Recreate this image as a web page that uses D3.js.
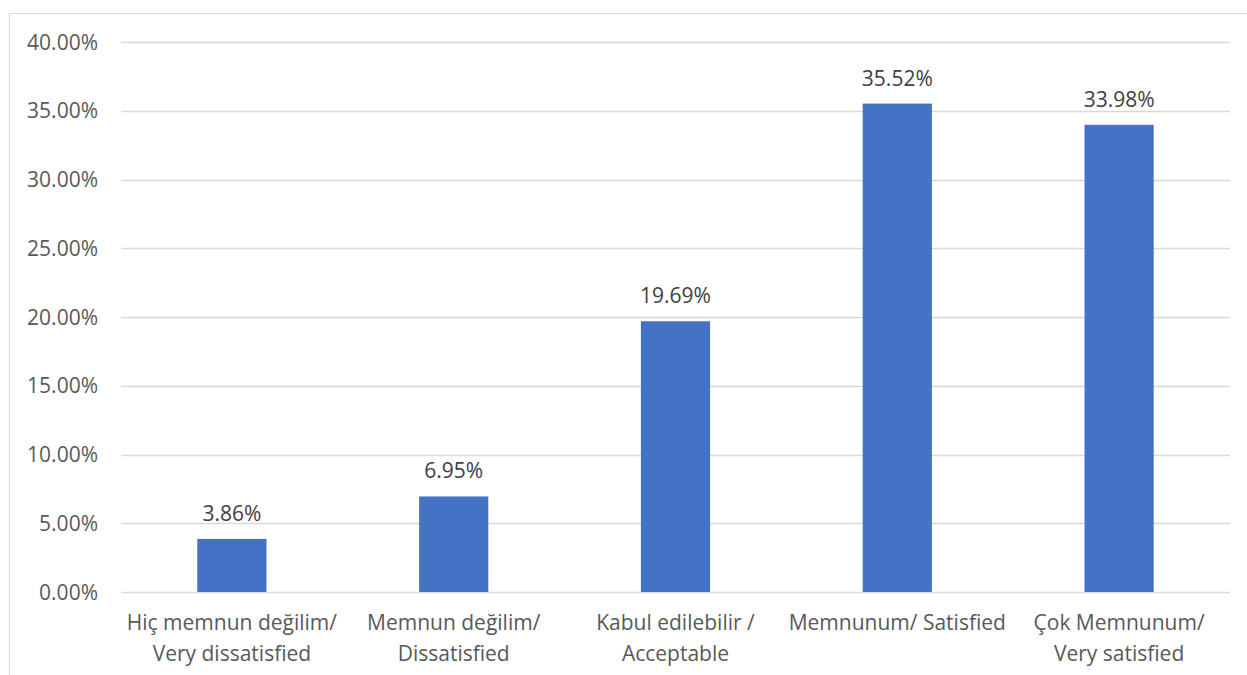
<!DOCTYPE html>
<html><head><meta charset="utf-8">
<script src="https://cdn.jsdelivr.net/npm/d3@7"></script>
<style>body{margin:0;background:#fff}svg{display:block}</style>
</head><body>
<svg id="c" width="1247" height="675"></svg>
<script>
const categories = [
  ["Hiç memnun değilim/", "Very dissatisfied"],
  ["Memnun değilim/", "Dissatisfied"],
  ["Kabul edilebilir /", "Acceptable"],
  ["Memnunum/ Satisfied"],
  ["Çok Memnunum/", "Very satisfied"]
];
const values = [3.86, 6.95, 19.69, 35.52, 33.98];
const yTicks = [0, 5, 10, 15, 20, 25, 30, 35, 40];

const svg = d3.select("#c");
const font = "'Open Sans', sans-serif";
const textColor = "#595959";
const fs = 21;

svg.append("rect").attr("x", 9.5).attr("y", 13.5).attr("width", 1300).attr("height", 700)
  .attr("fill", "none").attr("stroke", "#D9D9D9").attr("stroke-width", 1);

const x = d3.scaleBand().domain(d3.range(categories.length)).range([121, 1230]).padding(0);
const y = d3.scaleLinear().domain([0, 40]).range([592, 42]);

const g = svg.append("g");
g.selectAll("line.grid").data(yTicks).join("line")
  .attr("x1", 121).attr("x2", 1230)
  .attr("y1", d => Math.round(y(d)) + 0.5).attr("y2", d => Math.round(y(d)) + 0.5)
  .attr("stroke", "#D9D9D9").attr("stroke-width", 1.3);

g.selectAll("text.yt").data(yTicks).join("text")
  .attr("x", 98).attr("y", d => y(d) + 7.5)
  .attr("text-anchor", "end").attr("font-family", font).attr("font-size", fs)
  .attr("fill", textColor).text(d => d.toFixed(2) + "%");

const bw = x.bandwidth() * 0.312;
g.selectAll("rect.bar").data(values).join("rect")
  .attr("x", (d, i) => x(i) + x.bandwidth() / 2 - bw / 2)
  .attr("width", bw)
  .attr("y", d => y(d)).attr("height", d => y(0) - y(d))
  .attr("fill", "#4472C4");

g.selectAll("text.dl").data(values).join("text")
  .attr("x", (d, i) => x(i) + x.bandwidth() / 2)
  .attr("y", d => y(d) - 18)
  .attr("text-anchor", "middle").attr("font-family", font).attr("font-size", fs)
  .attr("fill", "#404040").text(d => d.toFixed(2) + "%");

const cl = g.selectAll("text.cat").data(categories).join("text")
  .attr("text-anchor", "middle").attr("font-family", font).attr("font-size", fs)
  .attr("fill", textColor);
cl.each(function(lines, i) {
  d3.select(this).selectAll("tspan").data(lines).join("tspan")
    .attr("x", x(i) + x.bandwidth() / 2)
    .attr("y", (d, j) => 630 + j * 31)
    .text(d => d);
});
</script>
</body></html>
